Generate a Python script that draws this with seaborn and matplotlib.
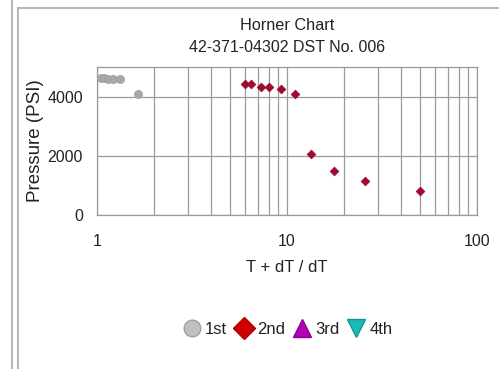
import matplotlib
matplotlib.use("Agg")
import matplotlib.pyplot as plt
import seaborn as sns
import pandas as pd
from matplotlib.lines import Line2D
from matplotlib.ticker import FixedLocator, NullFormatter

sns.set_style("white")
plt.rcParams['font.family'] = ['Liberation Sans', 'DejaVu Sans']

# Data
x_1st = [1.05, 1.09, 1.14, 1.21, 1.32, 1.64]
y_1st = [4630, 4620, 4610, 4600, 4590, 4100]
x_2nd = [6.0, 6.5, 7.3, 8.0, 9.3, 11.0, 13.4, 17.7, 25.7, 50.1]
y_2nd = [4410, 4410, 4340, 4340, 4240, 4100, 2050, 1470, 1160, 820]
series_names = ["1st", "2nd", "3rd", "4th"]
title_lines = ["Horner Chart", "42-371-04302 DST No. 006"]
y_ticks = [0, 2000, 4000]
x_ticks = [1, 10, 100]

TXT = "#222222"
fig = plt.figure(figsize=(4.99, 3.69), dpi=100)
ax = fig.add_axes([97/499, 1-215/369, 380/499, 148/369])

df1 = pd.DataFrame({"x": x_1st, "y": y_1st})
df2 = pd.DataFrame({"x": x_2nd, "y": y_2nd})
sns.scatterplot(data=df1, x="x", y="y", ax=ax, color="#a8a8a8", marker="o",
                s=34, edgecolor="#a0a0a0", linewidth=0.5, legend=False, zorder=3)
sns.scatterplot(data=df2, x="x", y="y", ax=ax, color="#9e0b2e", marker="D",
                s=20, edgecolor="#9e0b2e", linewidth=0.5, legend=False, zorder=3)

ax.set_xscale("log")
ax.set_xlim(1, 100)
ax.set_ylim(0, 5000)
ax.set_yticks(y_ticks)
ax.set_yticklabels([str(v) for v in y_ticks])
ax.set_xticks(x_ticks)
ax.set_xticklabels([str(v) for v in x_ticks])
minor = [m * d for d in (1, 10) for m in range(2, 10)]
ax.xaxis.set_minor_locator(FixedLocator(minor))
ax.xaxis.set_minor_formatter(NullFormatter())
ax.grid(True, which="both", axis="x", color="#9a9a9a", linewidth=0.9)
ax.grid(True, which="major", axis="y", color="#9a9a9a", linewidth=0.9)
ax.yaxis.set_minor_locator(FixedLocator([]))
for s in ax.spines.values():
    s.set_color("#9a9a9a")
    s.set_linewidth(0.9)
ax.tick_params(axis="both", which="both", length=0, labelsize=11.5, colors=TXT)
ax.tick_params(axis="x", pad=14)
ax.tick_params(axis="y", pad=10)
ax.set_xlabel("T + dT / dT", fontsize=12, color=TXT)
ax.set_ylabel("Pressure (PSI)", fontsize=13.5, color=TXT)
ax.xaxis.set_label_coords((287-97)/380, -(267-215)/148)
ax.yaxis.set_label_coords((35-97)/380, 0.5)
ax.xaxis.label.set_va("center")
ax.yaxis.label.set_va("center")

fig.text(287/499, 1-26/369, title_lines[0], ha="center", va="center", fontsize=11.7, color=TXT)
fig.text(287/499, 1-47/369, title_lines[1], ha="center", va="center", fontsize=11.5, color=TXT)

handles = [
    Line2D([], [], linestyle="none", marker="o", markersize=12, markerfacecolor="#c0c0c0", markeredgecolor="#a0a0a0"),
    Line2D([], [], linestyle="none", marker="D", markersize=11, markerfacecolor="#d00000", markeredgecolor="#b00000"),
    Line2D([], [], linestyle="none", marker="^", markersize=13, markerfacecolor="#b000b8", markeredgecolor="#900098"),
    Line2D([], [], linestyle="none", marker="v", markersize=13, markerfacecolor="#20b8b8", markeredgecolor="#109898"),
]
fig.legend(handles, series_names, loc="center", bbox_to_anchor=(287/499, 1-329/369),
           ncol=4, frameon=False, fontsize=12, handletextpad=0.2, columnspacing=0.4,
           handlelength=1.2, labelcolor=TXT)

# panel borders
fig.add_artist(Line2D([12/499, 12/499], [0, 1], color="#b8b8b8", linewidth=1.5))
fig.add_artist(Line2D([18/499, 18/499], [0, 1-8/369], color="#b8b8b8", linewidth=1.5))
fig.add_artist(Line2D([18/499, 1], [1-8/369, 1-8/369], color="#b8b8b8", linewidth=1.5))

fig.savefig("out.png", dpi=100)
